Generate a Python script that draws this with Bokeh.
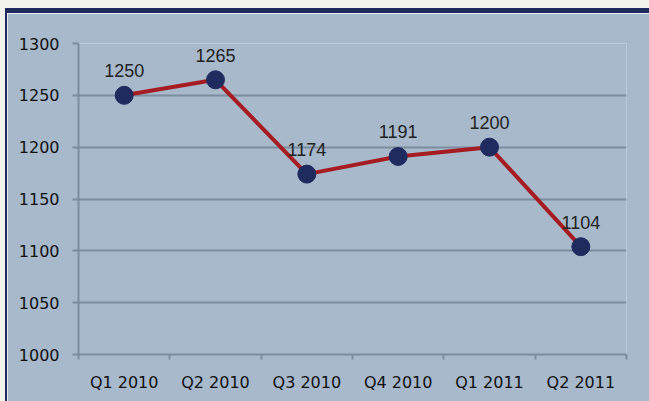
from bokeh.plotting import figure
from bokeh.models import ColumnDataSource, Div, FixedTicker, Range1d
from bokeh.layouts import column, row
from bokeh.embed import file_html
from bokeh.resources import INLINE
from bokeh.core.properties import value

quarters = ["Q1 2010", "Q2 2010", "Q3 2010", "Q4 2010", "Q1 2011", "Q2 2011"]
values = [1250, 1265, 1174, 1191, 1200, 1104]
labels = [str(v) for v in values]
y_ticks = [1000, 1050, 1100, 1150, 1200, 1250, 1300]

PAGE = "#f3f3ee"
BG = "#a7b9cb"
GRID = "#7b8d9e"
NAVY = "#1f2a5e"
RED = "#a51c22"

n = len(quarters)
centers = [i + 0.5 for i in range(n)]
bounds = list(range(n + 1))
src = ColumnDataSource(dict(x=centers, y=values, t=labels))


def block(w, h, color):
    return Div(text="", width=w, height=h, margin=0,
               styles={"background-color": color})


p = figure(x_range=Range1d(0, n), y_range=Range1d(1000, 1300), width=642, height=388,
           output_backend="svg", toolbar_location=None,
           min_border_left=71, min_border_right=23, min_border_top=30,
           min_border_bottom=47, margin=0)
p.background_fill_color = BG
p.border_fill_color = BG
p.outline_line_color = None

p.line("x", "y", source=src, line_color=RED, line_width=4)
p.scatter("x", "y", source=src, size=18, fill_color=NAVY, line_color=NAVY)
p.text("x", "y", text="t", source=src, text_align="center",
       text_baseline="bottom", y_offset=-18, text_font=value("Liberation Sans"),
       text_font_size="18px", text_color="#222222")

p.yaxis.ticker = FixedTicker(ticks=y_ticks)
p.ygrid.grid_line_color = GRID
p.ygrid.grid_line_width = 2
p.xgrid.grid_line_color = None

# x axis: labels at category centres, tick marks (minor) at category boundaries
p.xaxis.ticker = FixedTicker(ticks=centers, minor_ticks=bounds)
p.xaxis.major_label_overrides = {c: q for c, q in zip(centers, quarters)}
p.xaxis.major_tick_line_color = None
p.xaxis.major_tick_out = 5
p.xaxis.major_tick_in = 0
p.xaxis.minor_tick_line_color = GRID
p.xaxis.minor_tick_line_width = 2
p.xaxis.minor_tick_out = 5
p.xaxis.minor_tick_in = 0
p.xaxis.major_label_standoff = 13

p.yaxis.major_tick_line_color = GRID
p.yaxis.major_tick_line_width = 2
p.yaxis.minor_tick_line_color = None
p.yaxis.major_tick_out = 6
p.yaxis.major_tick_in = 0
p.yaxis.major_label_standoff = 13

for ax in (p.xaxis, p.yaxis):
    ax.axis_line_color = GRID
    ax.axis_line_width = 2
    ax.major_label_text_font = "DejaVu Sans"
    ax.major_label_text_font_size = "16px"
    ax.major_label_text_color = "#111111"

inner = column(block(644, 5, NAVY), row(block(2, 388, NAVY), p, spacing=0), spacing=0)
layout = column(block(649, 8, PAGE), row(block(5, 393, PAGE), inner, spacing=0), spacing=0)
open("out.html", "w").write(file_html(layout, INLINE))
